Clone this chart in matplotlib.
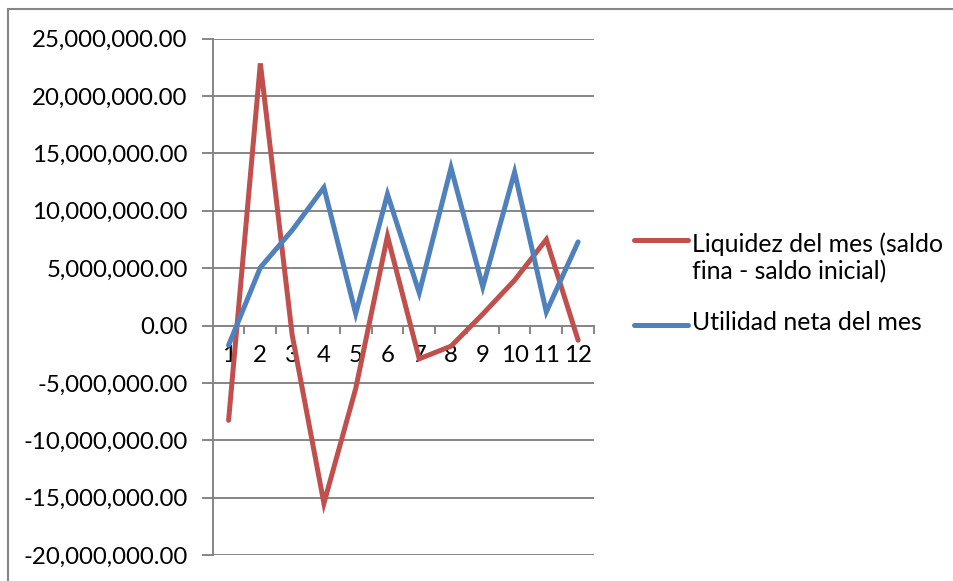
import matplotlib.pyplot as plt
from matplotlib.lines import Line2D
from matplotlib.patches import Rectangle
from matplotlib.ticker import FuncFormatter

months = list(range(1, 13))
liquidez = [-8.26e6, 22.85e6, -0.8e6, -15.5e6, -5.5e6, 7.79e6,
            -2.9e6, -1.8e6, 1.0e6, 3.95e6, 7.5e6, -1.28e6]
utilidad = [-1.72e6, 5.06e6, 8.3e6, 12.03e6, 1.04e6, 11.45e6,
            2.85e6, 13.75e6, 3.37e6, 13.37e6, 1.19e6, 7.29e6]
labels = ["Liquidez del mes (saldo\nfina - saldo inicial)",
          "Utilidad neta del mes"]
colors = ["#C0504D", "#4F81BD"]

W, H = 954, 581
plt.rcParams["font.family"] = ["Lato", "DejaVu Sans"]
fs = 17.3
grid_c = "#868686"

fig = plt.figure(figsize=(W / 100, H / 100), dpi=100)
ax = fig.add_axes([212.7 / W, 1 - 555 / H, (594 - 212.7) / W, (555 - 38.7) / H])

ax.plot(months, liquidez, color=colors[0], lw=3.6, solid_capstyle="round",
        solid_joinstyle="miter", zorder=3, clip_on=False)
ax.plot(months, utilidad, color=colors[1], lw=3.6, solid_capstyle="round",
        solid_joinstyle="miter", zorder=4, clip_on=False)

ax.set_xlim(0.5, 12.5)
ax.set_ylim(-20e6, 25e6)
ax.set_yticks([i * 5e6 for i in range(-4, 6)])
ax.yaxis.set_major_formatter(FuncFormatter(lambda v, p: f"{v:,.2f}"))
ax.grid(axis="y", color=grid_c, lw=1.4)
ax.set_axisbelow(True)

for s in ["top", "right"]:
    ax.spines[s].set_visible(False)
ax.spines["left"].set_color(grid_c)
ax.spines["left"].set_linewidth(1.4)
ax.spines["bottom"].set_position(("data", 0))
ax.spines["bottom"].set_color(grid_c)
ax.spines["bottom"].set_linewidth(1.4)

# ticks at category boundaries, labels at centres
ax.set_xticks([m + 0.5 for m in range(0, 13)])
ax.set_xticklabels([])
ax.set_xticks(months, minor=True)
ax.set_xticklabels([str(m) for m in months], minor=True, fontsize=fs)
ax.tick_params(axis="x", which="major", length=6, width=1.4, color=grid_c,
               direction="out")
ax.tick_params(axis="x", which="minor", length=0, pad=14)
ax.tick_params(axis="y", length=8, width=1.4, color=grid_c, labelsize=fs, pad=10)

# chart-area border (top and left visible)
fig.add_artist(Rectangle((8 / W, -0.1), 1.2, 1 - 9 / H + 0.1,
                         transform=fig.transFigure, fill=False,
                         edgecolor=grid_c, lw=1.5))

# legend
x0, x1, tx = 634 / W, 688 / W, 692 / W
for (y_line, y_text, lab, c) in [(240, 258, labels[0], colors[0]),
                                  (325, 322, labels[1], colors[1])]:
    fig.add_artist(Line2D([x0, x1], [1 - y_line / H] * 2, color=c, lw=3.6,
                          solid_capstyle="round", transform=fig.transFigure))
    fig.text(tx, 1 - y_text / H, lab, fontsize=17.9, va="center", ha="left",
             linespacing=1.2)

fig.savefig("out.png", dpi=100)
